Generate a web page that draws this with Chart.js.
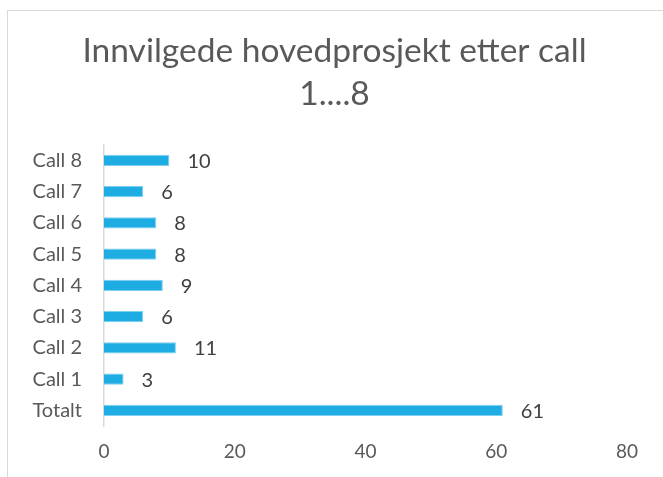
<!DOCTYPE html>
<html>
<head>
<meta charset="utf-8">
<script src="https://cdn.jsdelivr.net/npm/chart.js@4"></script>
<style>
    html, body { margin: 0; padding: 0; background: #fff; overflow: hidden; }
    .frame {
        position: absolute; left: 7px; top: 10px;
        width: 700px; height: 500px;
        border: 1px solid #d9d9d9;
    }
    .wrap { position: absolute; left: 0; top: 0; width: 663px; height: 477px; }
</style>
</head>
<body>
<div class="frame"></div>
<div class="wrap"><canvas id="call-chart"></canvas></div>
<script>
const categories = ['Call 8', 'Call 7', 'Call 6', 'Call 5', 'Call 4', 'Call 3', 'Call 2', 'Call 1', 'Totalt'];
const values = [10, 6, 8, 8, 9, 6, 11, 3, 61];
const xTicks = [0, 20, 40, 60, 80];

const FONT = 'Lato';

// value labels to the right of each bar
const valueLabels = {
    id: 'valueLabels',
    afterLayout(chart) {
        // centre the title on the frame, not on the padded canvas
        if (chart.titleBlock) {
            chart.titleBlock.left += 21;
            chart.titleBlock.right += 21;
        }
    },
    afterDatasetsDraw(chart) {
        const ctx = chart.ctx;
        const meta = chart.getDatasetMeta(0);
        ctx.save();
        ctx.font = '20px ' + FONT;
        ctx.fillStyle = '#404040';
        ctx.textAlign = 'left';
        ctx.textBaseline = 'middle';
        meta.data.forEach(function (bar, i) {
            ctx.fillText(String(values[i]), bar.x + 18, bar.y + 1);
        });
        ctx.restore();
    }
};

new Chart(document.getElementById('call-chart'), {
    type: 'bar',
    data: {
        labels: categories,
        datasets: [{
            data: values,
            backgroundColor: '#1eade3',
            borderColor: '#7fd0f0',
            borderWidth: { top: 1, bottom: 1, right: 1, left: 0 },
            borderSkipped: 'left',
            barPercentage: 0.36,
            categoryPercentage: 1
        }]
    },
    options: {
        indexAxis: 'y',
        responsive: true,
        maintainAspectRatio: false,
        animation: false,
        layout: { padding: { top: 20, right: 36, bottom: 0, left: 0 } },
        plugins: {
            legend: { display: false },
            tooltip: { enabled: false },
            title: {
                display: true,
                text: ['Innvilgede hovedprosjekt etter call', '1....8'],
                color: '#595959',
                font: { family: FONT, size: 33.5, weight: 'normal', lineHeight: 1.28 },
                padding: { top: 10, bottom: 29 }
            }
        },
        scales: {
            x: {
                min: 0,
                max: 80,
                afterBuildTicks: function (axis) {
                    axis.ticks = xTicks.map(v => ({ value: v }));
                },
                grid: { display: false, drawTicks: false },
                border: { display: false },
                ticks: {
                    color: '#595959',
                    font: { family: FONT, size: 19, lineHeight: 1 },
                    padding: 16
                }
            },
            y: {
                afterFit: function (axis) { axis.width = 104; },
                grid: { display: false, drawTicks: false },
                border: { display: true, color: '#d9d9d9', width: 1.5 },
                ticks: {
                    color: '#595959',
                    font: { family: FONT, size: 20 },
                    padding: 22
                }
            }
        }
    },
    plugins: [valueLabels]
});
</script>
</body>
</html>
